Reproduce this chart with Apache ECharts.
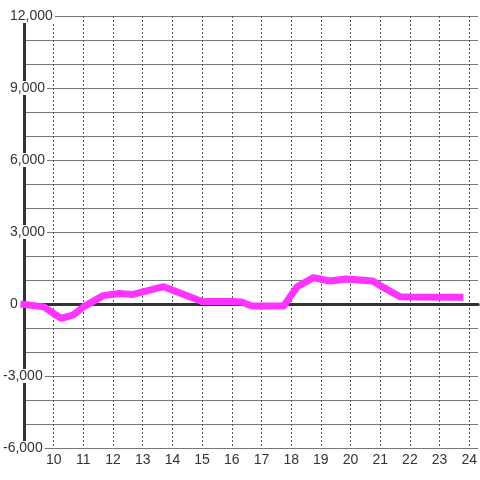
<!DOCTYPE html>
<html>
<head>
<meta charset="utf-8">
<script src="https://cdn.jsdelivr.net/npm/echarts@6/dist/echarts.min.js"></script>
<style>
  html, body { margin: 0; padding: 0; background: #fff; }
  #chart { width: 480px; height: 480px; }
</style>
</head>
<body>
<div id="chart"></div>
<script>
// hour of day -> value
const hours = [8.88, 9.67, 10.25, 10.67, 11.0, 11.67, 12.2, 12.67, 13.7, 15.0, 16.0, 16.33, 16.67, 17.75, 18.2, 18.75, 19.3, 19.85, 20.3, 20.75, 21.15, 21.67, 22.0, 23.8];
const values = [0, -120, -600, -450, -120, 350, 440, 400, 720, 100, 100, 80, -80, -80, 720, 1100, 960, 1040, 1000, 960, 660, 300, 290, 280];

const xMin = 9, xMax = 24.3;
const yMin = -6000, yMax = 12000;

const chart = echarts.init(document.getElementById('chart'));
const font = 'Liberation Sans, Arial, sans-serif';

const option = {
  animation: false,
  grid: { left: 21, right: 0, top: 16, bottom: 32 },
  xAxis: [
    {
      type: 'value',
      min: xMin,
      max: xMax,
      interval: 1,
      axisLine: { show: false },
      axisTick: { show: false },
      axisLabel: {
        fontSize: 14,
        fontFamily: font,
        color: '#333',
        margin: 5,
        showMinLabel: false,
        showMaxLabel: false
      },
      splitLine: {
        show: true,
        showMinLine: false,
        showMaxLine: false,
        lineStyle: { color: '#555', width: 1, type: [2, 2] }
      }
    },
    {
      // thick zero line
      type: 'value',
      min: xMin,
      max: xMax,
      position: 'bottom',
      axisLine: { show: true, onZero: true, onZeroAxisIndex: 0, lineStyle: { color: '#333', width: 3 } },
      axisTick: { show: false },
      axisLabel: { show: false },
      splitLine: { show: false }
    }
  ],
  yAxis: [
    {
      type: 'value',
      min: yMin,
      max: yMax,
      interval: 1000,
      position: 'left',
      axisLine: { show: true, onZero: false, lineStyle: { color: '#333', width: 3 } },
      axisTick: { show: false },
      axisLabel: { show: false },
      splitLine: { show: true, lineStyle: { color: '#777', width: 1 } }
    },
    {
      // labels only, drawn above the lines
      type: 'value',
      min: yMin,
      max: yMax,
      interval: 3000,
      position: 'left',
      z: 10,
      axisLine: { show: false },
      axisTick: { show: false },
      splitLine: { show: false },
      axisLabel: {
        align: 'left',
        margin: 21,
        fontSize: 14,
        fontFamily: font,
        color: '#333',
        formatter: (v) => {
          const s = v.toLocaleString('en-US');
          return v < 0 ? '{n|' + s + '}' : '{p|' + s + '}';
        },
        rich: {
          p: { fontSize: 14, fontFamily: font, color: '#333', backgroundColor: '#fff', lineHeight: 14, padding: [0, 2, 0, 7] },
          n: { fontSize: 14, fontFamily: font, color: '#333', backgroundColor: '#fff', lineHeight: 14, padding: [0, 2, 0, 0] }
        }
      }
    }
  ],
  series: [
    {
      type: 'line',
      xAxisIndex: 0,
      yAxisIndex: 0,
      data: hours.map((h, i) => [h, values[i]]),
      clip: false,
      showSymbol: false,
      lineStyle: { color: '#ff33ff', width: 7 },
      itemStyle: { color: '#ff33ff' }
    }
  ]
};

chart.setOption(option);
</script>
</body>
</html>
